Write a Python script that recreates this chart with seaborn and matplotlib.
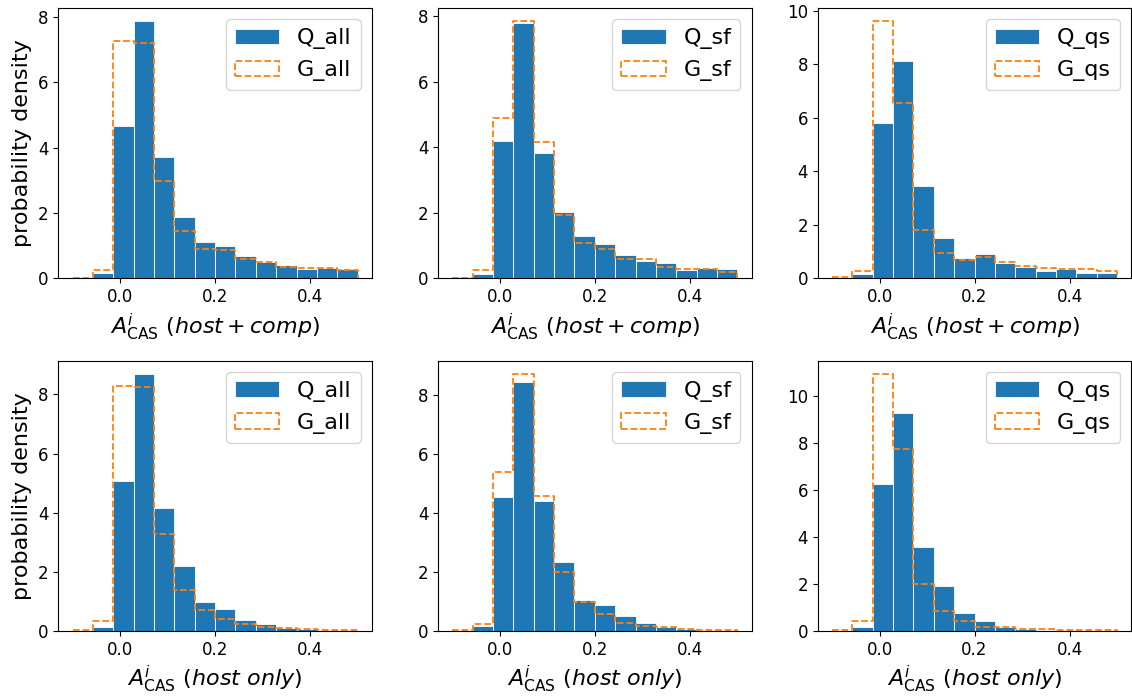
import numpy as np
import matplotlib
matplotlib.use("Agg")
import matplotlib.pyplot as plt
from matplotlib.patches import Patch
import seaborn as sns

# Histogram bin edges shared by every panel (14 bins from -0.1 to 0.5)
edges = np.linspace(-0.1, 0.5, 15)
centers = 0.5 * (edges[:-1] + edges[1:])

# Probability densities per bin, host + companion
q_all_hc = [0.01, 0.16, 4.68, 7.87, 3.71, 1.88, 1.13, 0.99, 0.68, 0.50, 0.42, 0.30, 0.33, 0.28]
g_all_hc = [0.03, 0.27, 7.28, 7.19, 2.98, 1.45, 0.89, 0.86, 0.60, 0.51, 0.35, 0.32, 0.33, 0.27]
q_sf_hc = [0.01, 0.13, 4.19, 7.80, 3.82, 2.02, 1.29, 1.04, 0.73, 0.54, 0.47, 0.27, 0.33, 0.30]
g_sf_hc = [0.02, 0.26, 4.89, 7.85, 4.16, 1.94, 1.08, 0.91, 0.60, 0.59, 0.34, 0.30, 0.30, 0.20]
q_qs_hc = [0.01, 0.16, 5.81, 8.12, 3.44, 1.52, 0.75, 0.91, 0.56, 0.43, 0.29, 0.34, 0.19, 0.19]
g_qs_hc = [0.04, 0.29, 9.60, 6.55, 1.80, 0.94, 0.68, 0.81, 0.60, 0.47, 0.40, 0.34, 0.37, 0.29]

# Probability densities per bin, host only
q_all_h = [0.01, 0.15, 5.06, 8.70, 4.17, 2.20, 0.97, 0.73, 0.37, 0.25, 0.09, 0.07, 0.03, 0.02]
g_all_h = [0.03, 0.34, 8.28, 8.26, 3.28, 1.40, 0.70, 0.39, 0.24, 0.15, 0.09, 0.08, 0.04, 0.02]
q_sf_h = [0.01, 0.17, 4.55, 8.45, 4.40, 2.33, 1.06, 0.88, 0.50, 0.27, 0.12, 0.07, 0.03, 0.02]
g_sf_h = [0.02, 0.24, 5.41, 8.73, 4.59, 1.99, 0.99, 0.58, 0.26, 0.18, 0.14, 0.08, 0.05, 0.04]
q_qs_h = [0.01, 0.16, 6.28, 9.30, 3.59, 1.91, 0.78, 0.44, 0.16, 0.10, 0.05, 0.03, 0.02, 0.01]
g_qs_h = [0.03, 0.43, 10.96, 7.77, 2.01, 0.85, 0.42, 0.19, 0.16, 0.10, 0.07, 0.06, 0.04, 0.03]

samples = ["all", "sf", "qs"]
rows = [
    ("host+comp", [(q_all_hc, g_all_hc), (q_sf_hc, g_sf_hc), (q_qs_hc, g_qs_hc)]),
    ("host\\ only", [(q_all_h, g_all_h), (q_sf_h, g_sf_h), (q_qs_h, g_qs_h)]),
]

BLUE = "#1f77b4"
ORANGE = "#ff7f0e"

plt.rcParams["font.family"] = ["DejaVu Sans"]
plt.rcParams["xtick.labelsize"] = 12
plt.rcParams["ytick.labelsize"] = 12

fig, axes = plt.subplots(2, 3, figsize=(11.32, 6.99), dpi=100)
fig.subplots_adjust(left=0.0515, right=0.9994, bottom=0.0973, top=0.988,
                    wspace=0.211, hspace=0.305)

bar_bins = edges.tolist()
# A zero-height closing bin lets the dashed outline drop to the baseline at 0.5
step_bins = bar_bins + [bar_bins[-1] + 1e-6]

for r, (tag, pairs) in enumerate(rows):
    for c, (q_vals, g_vals) in enumerate(pairs):
        ax = axes[r, c]
        sns.histplot(x=centers, weights=np.asarray(q_vals), bins=bar_bins,
                     stat="count", element="bars", color=BLUE, alpha=1.0,
                     edgecolor="white", linewidth=0.6, ax=ax)
        sns.histplot(x=centers, weights=np.asarray(g_vals), bins=step_bins,
                     stat="count", element="step", fill=False, color=ORANGE,
                     linestyle="--", linewidth=1.3, ax=ax)
        ax.set_xticks([0.0, 0.2, 0.4])
        ax.set_xlabel(r"$A^{i}_{\rm CAS}\ (" + tag + ")$", fontsize=16)
        ax.set_ylabel("probability density" if c == 0 else "", fontsize=16)
        handles = [
            Patch(facecolor=BLUE, edgecolor="white", linewidth=0.6),
            Patch(facecolor="none", edgecolor=ORANGE, linestyle="--", linewidth=1.3),
        ]
        ax.legend(handles, [f"Q_{samples[c]}", f"G_{samples[c]}"],
                  loc="upper right", fontsize=16)

fig.savefig("out.png", dpi=100)
